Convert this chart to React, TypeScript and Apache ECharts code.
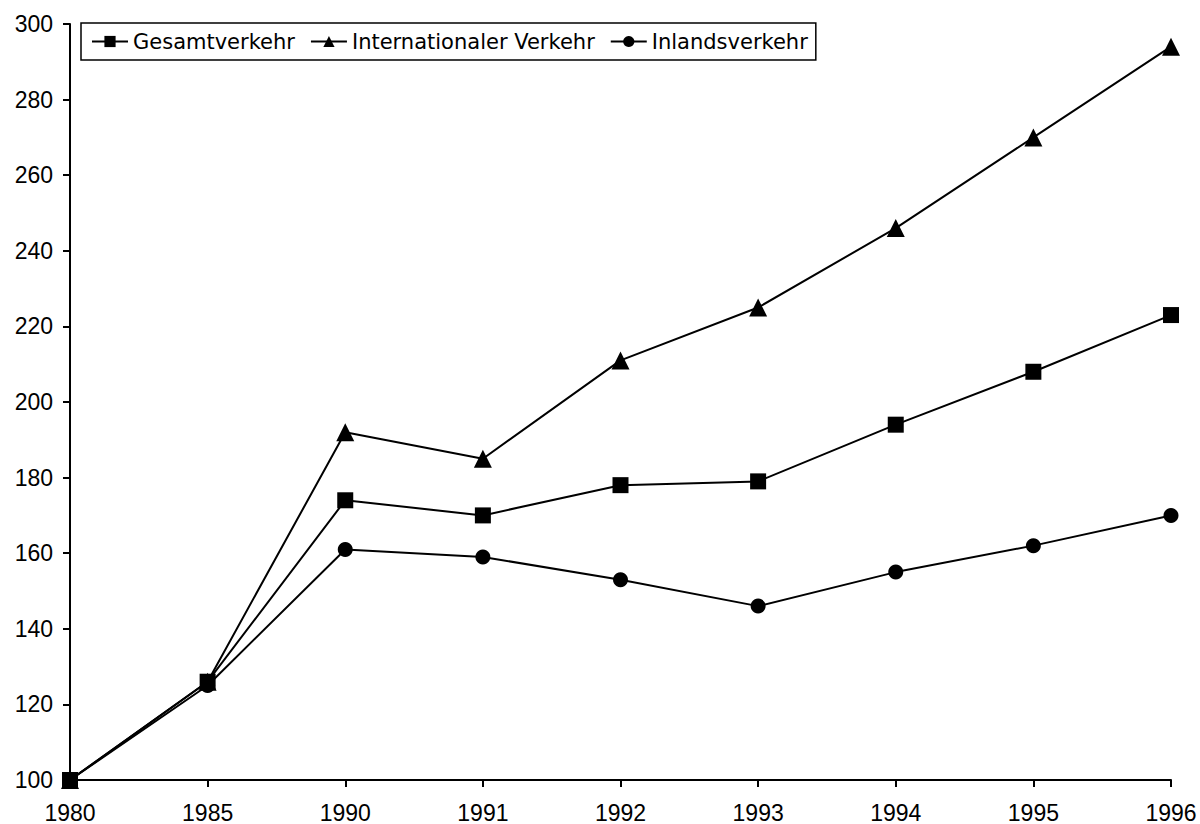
import React, { useEffect, useRef } from "react";
import * as echarts from "echarts";

const years = ["1980", "1985", "1990", "1991", "1992", "1993", "1994", "1995", "1996"];
const gesamt = [100, 126, 174, 170, 178, 179, 194, 208, 223];
const international = [100, 126, 192, 185, 211, 225, 246, 270, 294];
const inland = [100, 125, 161, 159, 153, 146, 155, 162, 170];
const legendNames = ["Gesamtverkehr", "Internationaler Verkehr", "Inlandsverkehr"];

export default function App() {
  const ref = useRef<HTMLDivElement>(null);
  useEffect(() => {
    const chart = echarts.init(ref.current!, null, { renderer: "svg" });
    const font = "Liberation Sans, Arial, sans-serif";
    const mk = (name: string, data: number[], symbol: string, size: number) => ({
      name,
      type: "line",
      data,
      symbol,
      symbolSize: size,
      showAllSymbol: true,
      lineStyle: { color: "#000", width: 2 },
      itemStyle: { color: "#000" },
    });
    chart.setOption({
      animation: false,
      backgroundColor: "#fff",
      textStyle: { fontFamily: font },
      grid: { left: 70, right: 29, top: 24, bottom: 44 },
      legend: {
        left: 81,
        top: 23,
        orient: "horizontal",
        itemWidth: 36,
        itemHeight: 14,
        itemGap: 15,
        padding: [8, 8, 8, 10],
        borderColor: "#000",
        borderWidth: 1.5,
        borderRadius: 0,
        backgroundColor: "#fff",
        textStyle: { fontFamily: "DejaVu Sans", fontSize: 21, color: "#000" },
        data: legendNames,
      },
      xAxis: {
        type: "category",
        data: years,
        boundaryGap: false,
        axisLine: { lineStyle: { color: "#000", width: 2 } },
        axisTick: { show: true, length: 7, lineStyle: { color: "#000", width: 2 } },
        axisLabel: { color: "#000", fontSize: 23, fontFamily: font, margin: 21 },
        splitLine: { show: false },
      },
      yAxis: {
        type: "value",
        min: 100,
        max: 300,
        interval: 20,
        axisLine: { show: true, lineStyle: { color: "#000", width: 2 } },
        axisTick: { show: true, length: 7, lineStyle: { color: "#000", width: 2 } },
        axisLabel: { color: "#000", fontSize: 23, fontFamily: font, margin: 17 },
        splitLine: { show: false },
      },
      series: [
        mk(legendNames[0], gesamt, "rect", 16),
        mk(legendNames[1], international, "triangle", 18),
        mk(legendNames[2], inland, "circle", 15),
      ],
    });
    return () => chart.dispose();
  }, []);
  return (
    <div
      ref={ref}
      style={{ position: "absolute", left: 0, top: 0, width: 1200, height: 824 }}
    />
  );
}
